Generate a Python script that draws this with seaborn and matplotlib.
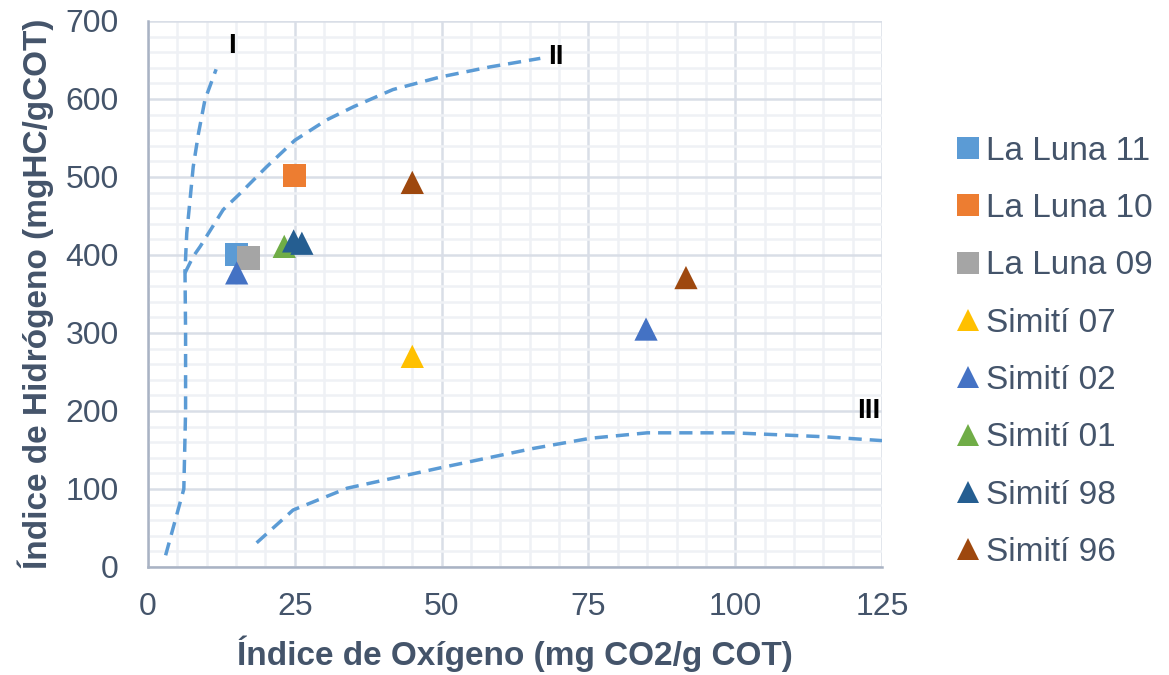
import matplotlib
matplotlib.use("Agg")
import matplotlib.pyplot as plt
from matplotlib.lines import Line2D
from matplotlib.ticker import MultipleLocator
import seaborn as sns
import pandas as pd

# --- sample data: oxygen index (x) and hydrogen index (y) ---
muestras = ["La Luna 11", "La Luna 10", "La Luna 09", "Simití 07",
            "Simití 02", "Simití 01", "Simití 98", "Simití 96"]
punto_muestra = ["La Luna 11", "La Luna 10", "La Luna 09", "Simití 07",
                 "Simití 02", "Simití 02", "Simití 01", "Simití 98",
                 "Simití 98", "Simití 96", "Simití 96"]
indice_oxigeno = [15.1, 25.0, 17.1, 45.0, 15.1, 84.8, 23.2, 24.8, 26.2, 45.0, 91.6]
indice_hidrogeno = [401, 502, 396, 270, 377, 305, 411, 418, 415, 493, 371]

colores = ["#5B9BD5", "#ED7D31", "#A5A5A5", "#FFC000",
           "#4472C4", "#70AD47", "#255E91", "#9E480E"]
marcadores = ["s", "s", "s", "^", "^", "^", "^", "^"]

# --- kerogen type reference curves ---
tipo_I_x = [3.0, 6.1, 6.4, 6.4, 6.3, 6.6, 7.15, 7.7, 8.6, 9.7, 11.6]
tipo_I_y = [15, 100, 200, 300, 380, 428, 470, 513, 556, 599, 638]
tipo_II_x = [6.3, 7.7, 8.9, 12.8, 15.7, 20.2, 25.0, 30.4, 35.0, 41.7, 49.7, 58.2, 66.8]
tipo_II_y = [377, 398, 411, 458, 479, 513, 547, 573, 590, 612, 628, 641, 652]
tipo_III_x = [18.5, 24.7, 33.9, 49.7, 65.6, 75.3, 85.0, 99.6, 115.0, 125.0]
tipo_III_y = [31, 73, 101, 127, 152, 165, 172, 172, 167, 162]

etiquetas_tipo = ["I", "II", "III"]
etiqueta_x = [14.3, 69.5, 122.8]
etiqueta_y = [668, 654, 200]

sns.set_theme(style="white")
plt.rcParams["font.family"] = ["Liberation Sans", "DejaVu Sans"]

texto = "#44546A"
eje = "#A9B3C4"
grid_mayor = "#D9DEE7"
grid_menor = "#EFF1F5"
curva = "#5B9BD5"

fig = plt.figure(figsize=(11.69, 6.75), dpi=100)
ax = fig.add_axes([0.1266, 0.16, 0.628, 0.809])

df = pd.DataFrame({"muestra": punto_muestra, "OI": indice_oxigeno, "HI": indice_hidrogeno})
paleta = dict(zip(muestras, colores))
formas = dict(zip(muestras, marcadores))

for cx, cy in [(tipo_I_x, tipo_I_y), (tipo_II_x, tipo_II_y), (tipo_III_x, tipo_III_y)]:
    curva_df = pd.DataFrame({"x": cx, "y": cy})
    sns.lineplot(data=curva_df, x="x", y="y", sort=False, estimator=None, ax=ax,
                 color=curva, linewidth=2.5, dashes=False, zorder=3)
for line in ax.get_lines():
    line.set_dashes((3.8, 2.3))

sns.scatterplot(data=df, x="OI", y="HI", hue="muestra", style="muestra",
                hue_order=muestras, style_order=muestras,
                palette=paleta, markers=formas, s=280, linewidth=0,
                legend=False, ax=ax, zorder=4)

for t, tx, ty in zip(etiquetas_tipo, etiqueta_x, etiqueta_y):
    ax.text(tx, ty, t, ha="center", va="center", fontsize=20,
            fontweight="bold", color="black", zorder=5)

ax.set_xlim(0, 125)
ax.set_ylim(0, 700)
ax.xaxis.set_major_locator(MultipleLocator(25))
ax.xaxis.set_minor_locator(MultipleLocator(5))
ax.yaxis.set_major_locator(MultipleLocator(100))
ax.yaxis.set_minor_locator(MultipleLocator(20))
ax.grid(which="major", color=grid_mayor, linewidth=1.8, zorder=0)
ax.grid(which="minor", color=grid_menor, linewidth=1.8, zorder=0)
ax.set_axisbelow(True)

for s in ["top", "right"]:
    ax.spines[s].set_visible(False)
for s in ["left", "bottom"]:
    ax.spines[s].set_color(eje)
    ax.spines[s].set_linewidth(1.8)

ax.tick_params(which="major", direction="out", length=6, width=1.8, color=eje,
               labelsize=23, labelcolor=texto)
ax.tick_params(axis="x", which="major", pad=12)
ax.tick_params(axis="y", which="major", pad=15)
ax.tick_params(which="minor", length=0)

ax.set_xlabel("Índice de Oxígeno (mg CO2/g COT)", fontsize=24, fontweight="bold",
              color=texto, labelpad=10)
ax.set_ylabel("Índice de Hidrógeno (mgHC/gCOT)", fontsize=24, fontweight="bold",
              color=texto, labelpad=8)

handles = [Line2D([], [], linestyle="none", marker=formas[m], color=paleta[m],
                  markersize=16.5, markeredgewidth=0) for m in muestras]
fig.legend(handles, muestras, loc="center left", bbox_to_anchor=(0.815, 0.479),
           frameon=False, fontsize=24, labelcolor=texto, handletextpad=0.1,
           handlelength=0.9, labelspacing=0.79, borderpad=0, borderaxespad=0)

fig.savefig("out.png", dpi=100)
